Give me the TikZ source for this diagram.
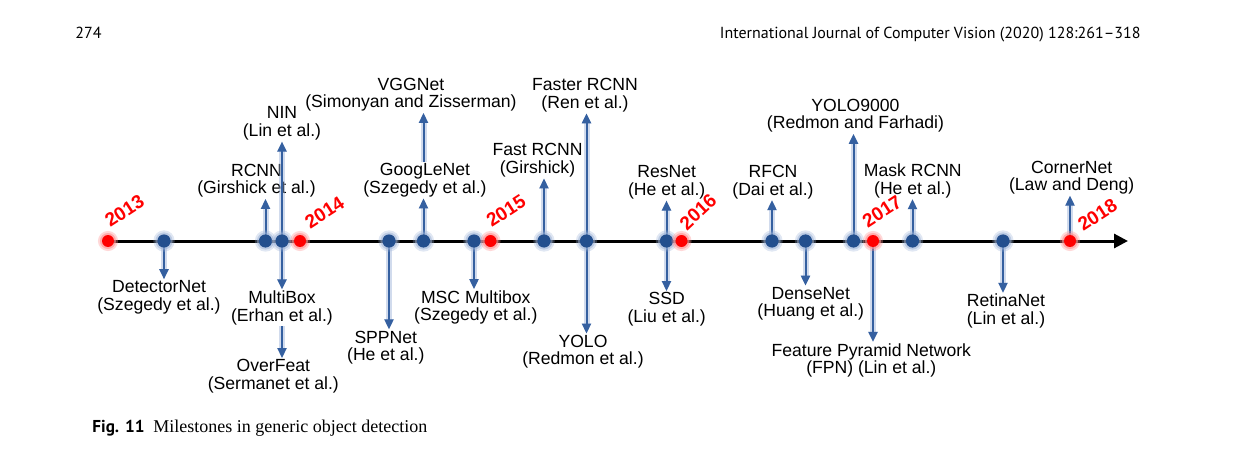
\documentclass[tikz,border=0pt]{standalone}
\usepackage{fontspec}
\setmainfont{Liberation Sans}
\newfontfamily\headfont{PT Sans}
\newfontfamily\capfont{Liberation Serif}
\usetikzlibrary{arrows.meta}
\definecolor{tlBlue}{HTML}{234F8E}
\definecolor{tlArrow}{HTML}{3560A0}
\definecolor{tlGlow}{HTML}{9AB0D6}
\definecolor{tlRed}{HTML}{FF0000}
\definecolor{tlRedGlow}{HTML}{FF9090}

\begin{document}
\begin{tikzpicture}[x=0.5pt, y=-0.5pt,
  milestone/.style={font=\fontsize{8.8}{8.8}\selectfont, align=center, inner sep=0.5pt},
  yearlabel/.style={font=\fontsize{9.5}{9.5}\selectfont\bfseries, text=tlRed, rotate=33, inner sep=0},
  bluedot/.style={circle, inner sep=0, minimum size=6.6pt, fill=tlBlue, preaction={draw=tlGlow, line width=4pt, opacity=0.3}, preaction={draw=tlGlow, line width=2pt, opacity=0.5}},
  reddot/.style={circle, inner sep=0, minimum size=6pt, fill=tlRed, preaction={draw=tlRedGlow, line width=4pt, opacity=0.35}, preaction={draw=tlRedGlow, line width=2pt, opacity=0.6}},
  milearrow/.style={draw=tlArrow, line width=1pt, -{Triangle[length=5pt,width=4.5pt]}, preaction={draw=tlGlow, line width=3pt, opacity=0.45}},
  timeline/.style={line width=1.5pt, -{Triangle[length=7pt,width=7pt]}}]
  \useasboundingbox (0,0) rectangle (1238,449);

  % page header
  \node[anchor=base west, font=\headfont\fontsize{8}{9}\selectfont, inner sep=0] (pageNo) at (75,39) {274};
  \node[anchor=base east, font=\headfont\fontsize{8}{9}\selectfont, inner sep=0] (journal) at (1141,39) {International Journal of Computer Vision (2020) 128:261–318};

  % positions on the time axis
  \coordinate (c2013) at (108,241);
  \coordinate (cDetector) at (164,241);
  \coordinate (cRCNN) at (265.5,241);
  \coordinate (cNIN) at (282,241);
  \coordinate (c2014) at (300,241);
  \coordinate (cSPP) at (389,241);
  \coordinate (cGoogLe) at (423.5,241);
  \coordinate (cMSC) at (474,241);
  \coordinate (c2015) at (490.5,241);
  \coordinate (cFast) at (544,241);
  \coordinate (cFaster) at (586.5,241);
  \coordinate (cResNet) at (666.5,241);
  \coordinate (c2016) at (681.5,241);
  \coordinate (cRFCN) at (772,241);
  \coordinate (cDense) at (805.5,241);
  \coordinate (cYOLO9000) at (853.5,241);
  \coordinate (c2017) at (873,241);
  \coordinate (cMask) at (912.5,241);
  \coordinate (cRetina) at (1003,241);
  \coordinate (c2018) at (1070,241);
  \coordinate (tlEnd) at (1128,241);

  % milestones above the axis
  \node[milestone] (lRCNN) at (256.5,180.8) {RCNN\\(Girshick et al.)};
  \node[milestone] (lNIN) at (282,123.5) {NIN\\(Lin et al.)};
  \node[milestone] (lGoogLe) at (425,180.3) {GoogLeNet\\(Szegedy et al.)};
  \node[milestone] (lVGG) at (411,94.8) {VGGNet\\(Simonyan and Zisserman)};
  \node[milestone] (lFast) at (537.5,160.3) {Fast RCNN\\(Girshick)};
  \node[milestone] (lFaster) at (585,95.2) {Faster RCNN\\(Ren et al.)};
  \node[milestone] (lResNet) at (666.7,182.5) {ResNet\\(He et al.)};
  \node[milestone] (lRFCN) at (773,182) {RFCN\\(Dai et al.)};
  \node[milestone] (lYOLO9000) at (855.5,115.7) {YOLO9000\\(Redmon and Farhadi)};
  \node[milestone] (lMask) at (912.8,180.8) {Mask RCNN\\(He et al.)};
  \node[milestone] (lCorner) at (1071.7,177.5) {CornerNet\\(Law and Deng)};

  % milestones below the axis
  \node[milestone] (lDetector) at (159,297.3) {DetectorNet\\(Szegedy et al.)};
  \node[milestone] (lMultiBox) at (282,307.8) {MultiBox\\(Erhan et al.)};
  \node[milestone] (lOverFeat) at (273.3,376.2) {OverFeat\\(Sermanet et al.)};
  \node[milestone] (lSPP) at (385.8,347.5) {SPPNet\\(He et al.)};
  \node[milestone] (lMSC) at (475.8,307.5) {MSC Multibox\\(Szegedy et al.)};
  \node[milestone] (lYOLO) at (583,351.7) {YOLO\\(Redmon et al.)};
  \node[milestone] (lSSD) at (666.7,309.2) {SSD\\(Liu et al.)};
  \node[milestone] (lDense) at (810.8,303.7) {DenseNet\\(Huang et al.)};
  \node[milestone] (lFPN) at (871.3,360.3) {Feature Pyramid Network\\(FPN) (Lin et al.)};
  \node[milestone] (lRetina) at (1006,311.2) {RetinaNet\\(Lin et al.)};

  % time axis
  \draw[timeline] (c2013) -- (tlEnd);

  % arrows to the labels
  \draw[milearrow] (cRCNN) -- (cRCNN |- lRCNN.south);
  \draw[milearrow] (cNIN) -- (cNIN |- lNIN.south);
  \draw[milearrow] (cGoogLe) -- (cGoogLe |- lGoogLe.south);
  \draw[milearrow] (cGoogLe |- lGoogLe.north) -- (cGoogLe |- lVGG.south);
  \draw[milearrow] (cFast) -- (cFast |- lFast.south);
  \draw[milearrow] (cFaster) -- (cFaster |- lFaster.south);
  \draw[milearrow] (cResNet) -- (cResNet |- lResNet.south);
  \draw[milearrow] (cRFCN) -- (cRFCN |- lRFCN.south);
  \draw[milearrow] (cYOLO9000) -- (cYOLO9000 |- lYOLO9000.south);
  \draw[milearrow] (cMask) -- (cMask |- lMask.south);
  \draw[milearrow] (c2018) -- (c2018 |- lCorner.south);
  \draw[milearrow] (cDetector) -- (cDetector |- lDetector.north);
  \draw[milearrow] (cNIN) -- (cNIN |- lMultiBox.north);
  \draw[milearrow] (cNIN |- lMultiBox.south) -- (cNIN |- lOverFeat.north);
  \draw[milearrow] (cSPP) -- (cSPP |- lSPP.north);
  \draw[milearrow] (cMSC) -- (cMSC |- lMSC.north);
  \draw[milearrow] (cFaster) -- (cFaster |- lYOLO.north);
  \draw[milearrow] (cResNet) -- (cResNet |- lSSD.north);
  \draw[milearrow] (cDense) -- (cDense |- lDense.north);
  \draw[milearrow] (c2017) -- (c2017 |- lFPN.north);
  \draw[milearrow] (cRetina) -- (cRetina |- lRetina.north);

  % dots on the axis
  \node[bluedot] (dDetector) at (cDetector) {};
  \node[bluedot] (dRCNN) at (cRCNN) {};
  \node[bluedot] (dNIN) at (cNIN) {};
  \node[bluedot] (dSPP) at (cSPP) {};
  \node[bluedot] (dGoogLe) at (cGoogLe) {};
  \node[bluedot] (dMSC) at (cMSC) {};
  \node[bluedot] (dFast) at (cFast) {};
  \node[bluedot] (dFaster) at (cFaster) {};
  \node[bluedot] (dResNet) at (cResNet) {};
  \node[bluedot] (dRFCN) at (cRFCN) {};
  \node[bluedot] (dDense) at (cDense) {};
  \node[bluedot] (dYOLO9000) at (cYOLO9000) {};
  \node[bluedot] (dMask) at (cMask) {};
  \node[bluedot] (dRetina) at (cRetina) {};
  \node[reddot] (d2013) at (c2013) {};
  \node[reddot] (d2014) at (c2014) {};
  \node[reddot] (d2015) at (c2015) {};
  \node[reddot] (d2016) at (c2016) {};
  \node[reddot] (d2017) at (c2017) {};
  \node[reddot] (d2018) at (c2018) {};

  % years
  \node[yearlabel] (y2013) at (124.5,211) {2013};
  \node[yearlabel] (y2014) at (324.5,212.5) {2014};
  \node[yearlabel] (y2015) at (506,211) {2015};
  \node[yearlabel, rotate=10] (y2016) at (698,212) {2016};
  \node[yearlabel] (y2017) at (882,211.5) {2017};
  \node[yearlabel] (y2018) at (1097.5,215) {2018};

  % caption
  \node[anchor=base west, inner sep=0, font=\headfont\bfseries\fontsize{8.6}{10}\selectfont] (capFig) at (92,432) {Fig. 11};
  \node[anchor=base west, inner sep=0, font=\capfont\fontsize{9}{10}\selectfont] (capText) at (153,432) {Milestones in generic object detection};
\end{tikzpicture}
\end{document}
